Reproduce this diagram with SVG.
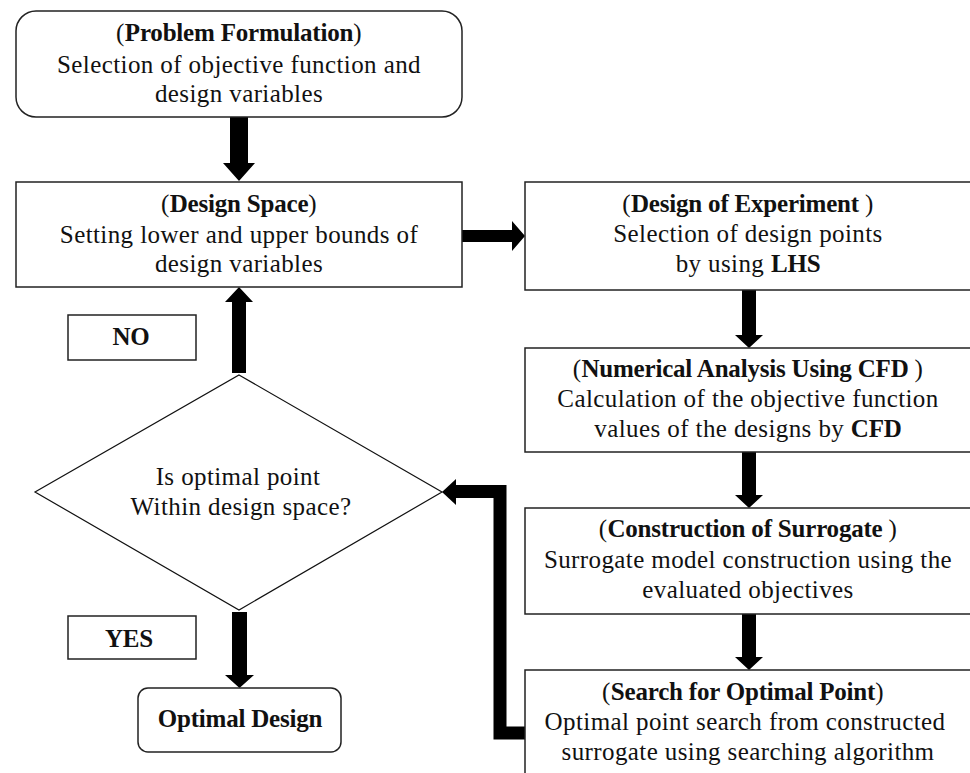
<svg xmlns="http://www.w3.org/2000/svg" width="970" height="773" viewBox="0 0 970 773">
<style>
.box{fill:#fff;stroke:#222;stroke-width:1.5}
.dia{fill:#fff;stroke:#111;stroke-width:1.2}
text{font-family:"Liberation Serif","Times New Roman",serif;font-size:25px;fill:#111;text-anchor:middle;letter-spacing:0.4px}
.b{font-weight:bold;letter-spacing:-0.2px}
.arr{fill:#000}
.ln{fill:none;stroke:#000;stroke-width:13;stroke-linejoin:miter}
</style>
<rect width="970" height="773" fill="#fff"/>
<g id="connectors">
<polygon class="arr" points="230,117 248,117 248,163 255,163 239,181 223,163 230,163"/>
<polygon class="arr" points="462,230 512,230 512,221 525,236 512,251 512,242 462,242"/>
<polygon class="arr" points="742,290 756,290 756,335 763,335 749,348 735,335 742,335"/>
<polygon class="arr" points="742,452 756,452 756,495 763,495 749,508 735,495 742,495"/>
<polygon class="arr" points="742,614 756,614 756,657 763,657 749,670 735,657 742,657"/>
<polygon class="arr" points="232,373 246,373 246,302 253,302 239,287 225,302 232,302"/>
<polygon class="arr" points="232,612 247,612 247,675 254,675 239.5,688 225,675 232,675"/>
<polyline class="ln" points="525,733 500,733 500,491.5 454,491.5"/>
<polygon class="arr" points="456,479 442,492 456,505"/>
</g>
<g id="problem">
<rect class="box" x="16" y="11" width="446" height="106" rx="20"/>
<text x="239" y="41">(<tspan class="b">Problem Formulation</tspan>)</text>
<text x="239" y="73">Selection of objective  function and</text>
<text x="239" y="102">design variables</text>
</g>
<g id="designspace">
<rect class="box" x="16" y="182" width="446" height="105"/>
<text x="239" y="212">(<tspan class="b">Design Space</tspan>)</text>
<text x="239" y="243">Setting lower and upper bounds of</text>
<text x="239" y="272">design variables</text>
</g>
<g id="doe">
<rect class="box" x="525" y="182" width="446" height="108"/>
<text x="748" y="212">(<tspan class="b">Design of Experiment </tspan>)</text>
<text x="748" y="242">Selection of design points</text>
<text x="748" y="272">by using <tspan class="b">LHS</tspan></text>
</g>
<g id="numerical">
<rect class="box" x="525" y="348" width="446" height="104"/>
<text x="748" y="377">(<tspan class="b">Numerical Analysis  Using CFD </tspan>)</text>
<text x="748" y="407">Calculation of the objective function</text>
<text x="748" y="437">values of the designs by <tspan class="b">CFD</tspan></text>
</g>
<g id="surrogate">
<rect class="box" x="525" y="508" width="446" height="106"/>
<text x="748" y="537">(<tspan class="b">Construction of Surrogate </tspan>)</text>
<text x="748" y="568">Surrogate model construction using the</text>
<text x="748" y="598">evaluated objectives</text>
</g>
<g id="search">
<rect class="box" x="525" y="670" width="446" height="120"/>
<text x="743" y="700">(<tspan class="b">Search for Optimal Point</tspan>)</text>
<text x="745" y="730">Optimal point search from constructed</text>
<text x="748" y="760">surrogate using searching algorithm</text>
</g>
<g id="decision">
<polygon class="dia" points="239,375 442,492 239,610 35,492"/>
<text x="238" y="485">Is optimal point</text>
<text x="241" y="515">Within design space?</text>
</g>
<g id="no">
<rect class="box" x="68" y="315" width="128" height="45"/>
<text class="b" x="131" y="345">NO</text>
</g>
<g id="yes">
<rect class="box" x="68" y="616" width="128" height="43"/>
<text class="b" x="129" y="647">YES</text>
</g>
<g id="optimal">
<rect class="box" x="138" y="688" width="203" height="64" rx="10"/>
<text class="b" x="240" y="727">Optimal Design</text>
</g>
</svg>
